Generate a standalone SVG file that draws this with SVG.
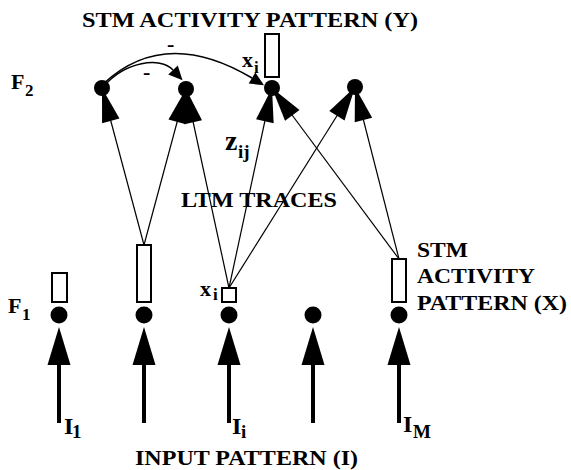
<svg xmlns="http://www.w3.org/2000/svg" width="571" height="470" viewBox="0 0 571 470">
<style>
text{font-family:"Liberation Serif","Times New Roman",serif;font-weight:bold;fill:#000}
.lbl{font-size:22px}
.sub{font-size:17px}
.thin{stroke:#000;stroke-width:1.2;fill:none;marker-end:url(#big)}
.inp{stroke:#000;stroke-width:4;fill:none;marker-end:url(#inarr)}
.inh{stroke:#000;stroke-width:1.5;fill:none;marker-end:url(#inh)}
.box{fill:#fff;stroke:#000;stroke-width:2}
.node{fill:#000}
</style>
<defs>
<marker id="big" markerUnits="userSpaceOnUse" orient="auto" refX="0" refY="0" markerWidth="1" markerHeight="1" overflow="visible"><path d="M0,0 L-34,-9 L-34,9 Z" fill="#000"/></marker>
<marker id="inarr" markerUnits="userSpaceOnUse" orient="auto" refX="0" refY="0" markerWidth="1" markerHeight="1" overflow="visible"><path d="M0,-11.5 L38,0 L0,11.5 Z" fill="#000"/></marker>
<marker id="inh" markerUnits="userSpaceOnUse" orient="auto" refX="0" refY="0" markerWidth="1" markerHeight="1" overflow="visible"><path d="M0,-6.5 L14,0 L0,6.5 Z" fill="#000"/></marker>
</defs>
<rect width="571" height="470" fill="#fff"/>
<g id="connectors">
<line class="thin" x1="144" y1="245" x2="102" y2="88"/>
<line class="thin" x1="144" y1="245" x2="186" y2="89"/>
<line class="thin" x1="229" y1="288" x2="186" y2="89"/>
<line class="thin" x1="229" y1="288" x2="272" y2="88"/>
<line class="thin" x1="229" y1="288" x2="355" y2="87"/>
<line class="thin" x1="399" y1="259" x2="272" y2="88"/>
<line class="thin" x1="399" y1="259" x2="355" y2="87"/>
<line class="inp" x1="59" y1="423" x2="59" y2="365"/>
<line class="inp" x1="144" y1="423" x2="144" y2="365"/>
<line class="inp" x1="229" y1="423" x2="229" y2="365"/>
<line class="inp" x1="313" y1="423" x2="313" y2="365"/>
<line class="inp" x1="399" y1="423" x2="399" y2="365"/>
<path class="inh" d="M103,84 Q165,26 252,78"/>
<path class="inh" d="M104,86 C125,62 160,56 173,70"/>
<text class="lbl" x="167" y="51">-</text>
<text class="lbl" x="143" y="79">-</text>
</g>
<g id="f2-1"><circle class="node" cx="102" cy="88" r="8"/></g>
<g id="f2-2"><circle class="node" cx="186" cy="89" r="8"/></g>
<g id="f2-3"><circle class="node" cx="272" cy="88" r="8"/><rect class="box" x="265" y="34" width="14" height="43"/>
<text class="lbl" x="242" y="67">x</text><text class="sub" x="254" y="73">i</text></g>
<g id="f2-4"><circle class="node" cx="355" cy="87" r="8"/></g>
<g id="f1-1"><circle class="node" cx="59" cy="315" r="8.5"/><rect class="box" x="52" y="273" width="15" height="29"/></g>
<g id="f1-2"><circle class="node" cx="144" cy="315" r="8.5"/><rect class="box" x="137" y="245" width="14" height="57"/></g>
<g id="f1-3"><circle class="node" cx="229" cy="315" r="8.5"/><rect class="box" x="222" y="288" width="14" height="14"/>
<text class="lbl" x="200" y="296">x</text><text class="sub" x="213" y="300">i</text></g>
<g id="f1-4"><circle class="node" cx="313" cy="315" r="8.5"/></g>
<g id="f1-5"><circle class="node" cx="399" cy="315" r="8.5"/><rect class="box" x="392" y="259" width="14" height="43"/></g>
<g id="labels">
<text class="lbl" x="82" y="27" textLength="336" lengthAdjust="spacingAndGlyphs">STM ACTIVITY PATTERN (Y)</text>
<text class="lbl" x="11" y="89">F</text><text class="sub" x="25" y="96">2</text>
<text class="lbl" x="8" y="313">F</text><text class="sub" x="22" y="320">1</text>
<text style="font-size:28px" x="225" y="150">z</text><text style="font-size:19px" x="238" y="158">ij</text>
<text class="lbl" x="181" y="207" textLength="156" lengthAdjust="spacingAndGlyphs">LTM TRACES</text>
<text class="lbl" x="417" y="257" textLength="51" lengthAdjust="spacingAndGlyphs">STM</text>
<text class="lbl" x="417" y="283" textLength="118" lengthAdjust="spacingAndGlyphs">ACTIVITY</text>
<text class="lbl" x="417" y="310" textLength="150" lengthAdjust="spacingAndGlyphs">PATTERN (X)</text>
<text style="font-size:24px" x="64" y="434">I</text><text x="72" y="438" style="font-size:19px">1</text>
<text style="font-size:24px" x="232" y="434">I</text><text x="241" y="438" style="font-size:19px">i</text>
<text style="font-size:24px" x="403" y="432">I</text><text x="413" y="438" style="font-size:19px">M</text>
<text class="lbl" x="135" y="465" textLength="223" lengthAdjust="spacingAndGlyphs">INPUT PATTERN (I)</text>
</g>
</svg>
